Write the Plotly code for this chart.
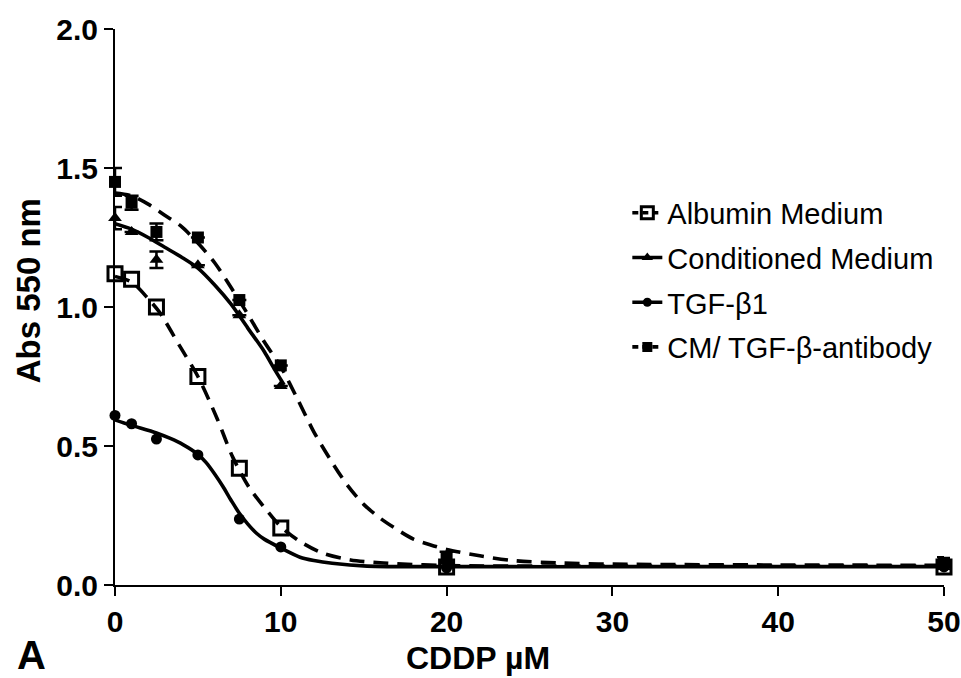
import plotly.graph_objects as go

# ---- measured data points ----
dose = [0, 1, 2.5, 5, 7.5, 10, 20, 50]
albumin = [1.12, 1.10, 1.00, 0.75, 0.42, 0.205, 0.065, 0.065]
conditioned = [1.32, 1.27, 1.17, 1.15, 0.97, 0.716, 0.07, 0.065]
conditioned_err = [0.04, 0.0, 0.03, 0.0, 0.0, 0.0, 0.0, 0.0]
tgf = [0.61, 0.58, 0.525, 0.468, 0.237, 0.137, 0.062, 0.065]
cm_ab = [1.45, 1.375, 1.27, 1.25, 1.025, 0.79, 0.10, 0.08]
cm_ab_err = [0.05, 0.025, 0.03, 0.0, 0.0, 0.0, 0.02, 0.02]

# ---- fitted curves ----
alb_fit_x = [0, 1, 2, 2.7, 3.9, 5, 6.15, 7.1, 8.1, 9.2, 10, 11.2, 12.5, 14.2, 16.2, 20, 30, 50]
alb_fit_y = [1.11, 1.09, 1.03, 0.98, 0.86, 0.75, 0.60, 0.46, 0.35, 0.265, 0.21, 0.155, 0.115, 0.09, 0.079, 0.07, 0.068, 0.068]

cond_fit_x = [0, 1, 2, 3, 4, 5, 6, 7, 8, 9, 9.65, 10.2]
cond_fit_y = [1.30, 1.28, 1.25, 1.215, 1.18, 1.14, 1.08, 1.01, 0.925, 0.84, 0.773, 0.72]

tgf_fit_x = [0, 0.9, 2.5, 3.3, 4.1, 5, 5.5, 6, 6.5, 7, 7.5, 8, 8.5, 9, 10, 11.16, 12.0, 13.1, 15.2, 20, 30, 50]
tgf_fit_y = [0.594, 0.576, 0.547, 0.528, 0.505, 0.47, 0.44, 0.40, 0.355, 0.305, 0.258, 0.22, 0.188, 0.165, 0.133, 0.10, 0.088, 0.078, 0.068, 0.066, 0.066, 0.066]

cm_fit_x = [0, 1, 2, 3, 4, 5, 6, 7, 8, 9, 10, 11, 12, 13, 14, 15, 16, 17, 18, 19, 20, 22, 24, 27, 30, 40, 50]
cm_fit_y = [1.41, 1.40, 1.37, 1.33, 1.29, 1.23, 1.16, 1.07, 0.975, 0.875, 0.785, 0.67, 0.55, 0.45, 0.36, 0.29, 0.24, 0.20, 0.165, 0.145, 0.128, 0.105, 0.088, 0.079, 0.075, 0.072, 0.071]

names = ["Albumin Medium", "Conditioned Medium", "TGF-β1", "CM/ TGF-β-antibody"]
x_ticks = [0, 10, 20, 30, 40, 50]
y_ticks = [0.0, 0.5, 1.0, 1.5, 2.0]

BLACK = "#000000"
LW = 3.6
DASH = "15px,9px"
FONT = "Liberation Sans, Arial, sans-serif"

fig = go.Figure()

def add_series(i, name, fx, fy, px, py, err, symbol, msize, dashed, mline=0):
    dash = DASH if dashed else "solid"
    grp = "g%d" % i
    fig.add_trace(go.Scatter(x=fx, y=fy, mode="lines", showlegend=False, legendgroup=grp,
                             line=dict(color=BLACK, width=LW, dash=dash, shape="spline", smoothing=0.8),
                             cliponaxis=False, hoverinfo="skip"))
    ed = None
    if err is not None:
        ed = dict(type="data", array=err, visible=True, color=BLACK, thickness=2.5, width=7)
    fig.add_trace(go.Scatter(x=px, y=py, mode="markers", showlegend=False, legendgroup=grp, error_y=ed,
                             marker=dict(symbol=symbol, size=msize, color=BLACK,
                                         line=dict(color=BLACK, width=mline)),
                             cliponaxis=False))
    # legend entry
    fig.add_trace(go.Scatter(x=[None], y=[None], mode="lines+markers", name=name, legendgroup=grp,
                             line=dict(color=BLACK, width=LW, dash="6px,4px" if dashed else "solid"),
                             marker=dict(symbol=symbol, size=msize - 2, color=BLACK,
                                         line=dict(color=BLACK, width=mline))))

add_series(0, names[0], alb_fit_x, alb_fit_y, dose, albumin, None, "square-open", 14, True, 3)
add_series(1, names[1], cond_fit_x, cond_fit_y, dose, conditioned, conditioned_err, "triangle-up", 12, False)
add_series(2, names[2], tgf_fit_x, tgf_fit_y, dose, tgf, None, "circle", 11, False)
add_series(3, names[3], cm_fit_x, cm_fit_y, dose, cm_ab, cm_ab_err, "square", 12, True)

tickfont = dict(family=FONT, size=30, color=BLACK, weight="bold")

fig.update_layout(
    width=961, height=678,
    margin=dict(l=115, r=17, t=29, b=93),
    paper_bgcolor="white", plot_bgcolor="white",
    showlegend=True,
    legend=dict(x=0.618, y=0.715, xanchor="left", yanchor="top",
                font=dict(family=FONT, size=29, color=BLACK),
                bgcolor="rgba(0,0,0,0)", itemwidth=30, tracegroupgap=4),
    xaxis=dict(range=[0, 50], tickvals=x_ticks, ticks="outside", ticklen=9,
               tickwidth=2, tickcolor=BLACK, showline=True, linecolor=BLACK, linewidth=2,
               showgrid=False, zeroline=False, tickfont=tickfont, automargin=False,
               ticklabeloverflow="allow"),
    yaxis=dict(range=[0, 2], tickvals=y_ticks, tickformat=".1f", ticks="outside",
               ticklen=9, tickwidth=2, tickcolor=BLACK, showline=True, linecolor=BLACK, linewidth=2,
               showgrid=False, zeroline=False, tickfont=tickfont, automargin=False,
               ticklabeloverflow="allow"),
)

# axis titles and panel letter
fig.add_annotation(text="<b>CDDP µM</b>", xref="paper", yref="paper", x=0.438, y=-0.131,
                   xanchor="center", yanchor="middle", showarrow=False,
                   font=dict(family=FONT, size=32, color=BLACK))
fig.add_annotation(text="<b>Abs 550 nm</b>", xref="paper", yref="paper", x=-0.105, y=0.53,
                   xanchor="center", yanchor="middle", showarrow=False, textangle=-90,
                   font=dict(family=FONT, size=33, color=BLACK))
fig.add_annotation(text="<b>A</b>", xref="paper", yref="paper", x=-0.121, y=-0.126,
                   xanchor="left", yanchor="middle", showarrow=False,
                   font=dict(family=FONT, size=40, color=BLACK))

fig.write_html("out.html", config={"displayModeBar": False},
               post_script="document.body.style.margin='0px';")
